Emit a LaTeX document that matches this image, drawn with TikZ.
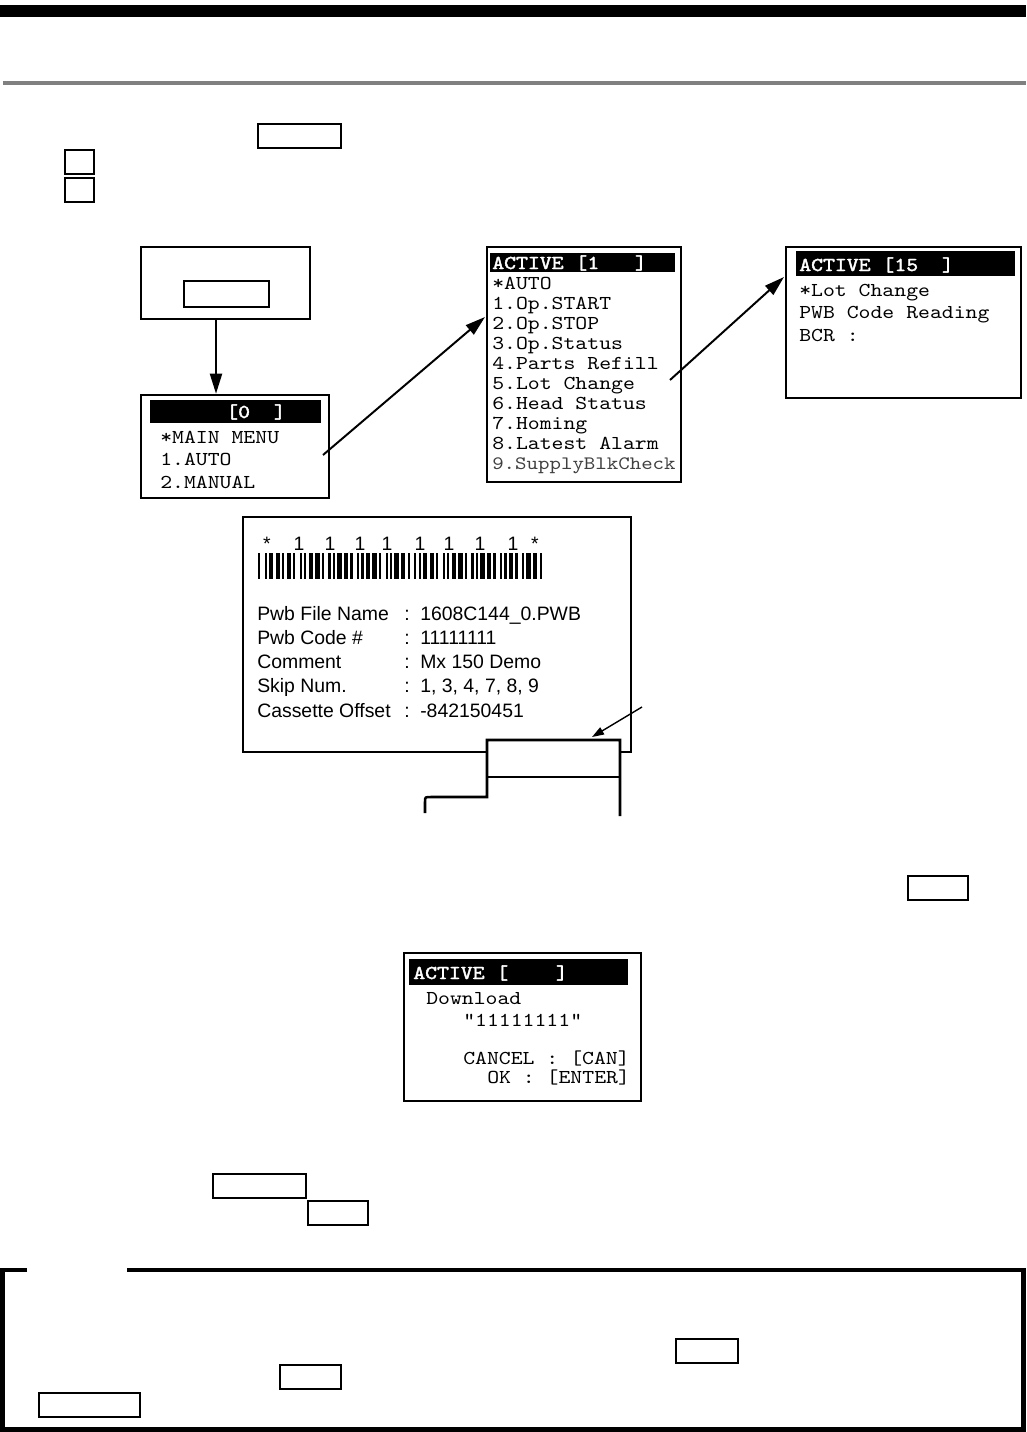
\documentclass[tikz,border=0pt]{standalone}
\usepackage{fontspec}
\usetikzlibrary{arrows.meta,fit}
\newfontfamily\lcdfont{lmmono10-regular}[Extension=.otf,FakeStretch=1.15]
\newfontfamily\lcdbold{lmmono10-regular}[Extension=.otf,FakeStretch=1.15,FakeBold=2]
\newfontfamily\slipfont{Liberation Sans}
\newcommand{\blanks}[1]{\hphantom{#1}}
\tikzset{
  panel/.style={draw,line width=1.8pt,inner sep=0pt},
  key/.style={draw,line width=1pt,inner sep=0pt},
  lcd/.style={anchor=base west,inner sep=0pt,font=\lcdfont\fontsize{14}{16}\selectfont},
  lcdhead/.style={lcd,text=white,font=\lcdbold\fontsize{14}{16}\selectfont},
  slip/.style={anchor=base west,inner sep=0pt,font=\slipfont\fontsize{13.8}{17}\selectfont},
  arr/.style={-{Triangle[length=5mm,width=3mm]},line width=1.4pt},
  ptr/.style={-{Triangle[length=3mm,width=2mm]},line width=1pt}
}

\begin{document}
\begin{tikzpicture}[x=0.025cm,y=-0.025cm]
  \useasboundingbox (0,0) rectangle (1026,1432);

  % Page header rules.
  \fill (0,5) rectangle (1026,17);
  \fill[gray] (3,81) rectangle (1026,85);

  % Key boxes in the opening lines.
  \node[key,fit={(258,124) (341,148)}] (k1) {};
  \node[key,fit={(65,150) (94,174)}] (k2) {};
  \node[key,fit={(65,178) (94,202)}] (k3) {};

  % Start panel with its key.
  \node[panel,line width=1.4pt,fit={(141,247) (310,319)}] (start) {};
  \node[key,fit={(184,281) (269,307)}] (startkey) {};

  % Main menu screen.
  \node[panel,fit={(141,395) (329,498)}] (menu) {};
  \fill (150,400) rectangle (321,423);
  \node[lcdhead] (menuhead) at (226,418) {[0\blanks{00}]};
  \node[lcd] (menu1) at (160,443) {*MAIN MENU};
  \node[lcd] (menu2) at (160,465) {1.AUTO};
  \node[lcd] (menu3) at (160,488) {2.MANUAL};

  \coordinate (drop) at (216,319);
  \draw[arr] (drop) -- (drop |- menu.north);

  % Auto screen.
  \node[panel,fit={(487,247) (681,482)}] (auto) {};
  \fill (490,253) rectangle (675,272);
  \node[lcdhead] (autohead) at (492,269) {ACTIVE\blanks{0}[1\blanks{000}]};
  \foreach \t [count=\i] in {*AUTO,1.Op.START,2.Op.STOP,3.Op.Status,4.Parts Refill,5.Lot Change,6.Head Status,7.Homing,8.Latest Alarm}
    \node[lcd] (auto\i) at (492,269+20*\i) {\t};
  \node[lcd,text=black!75,font=\lcdfont\fontsize{13.5}{16}\selectfont] (auto10) at (492,469) {9.SupplyBlkCheck};

  \coordinate (from1) at (323,455);
  \coordinate (to1) at (485,317);
  \draw[arr] (from1) -- (to1);

  % Lot change screen.
  \node[panel,fit={(786,247) (1021,398)}] (lot) {};
  \fill (796,251) rectangle (1015,276);
  \node[lcdhead] (lothead) at (799,271) {ACTIVE\blanks{0}[15\blanks{00}]};
  \node[lcd] (lot1) at (799,296) {*Lot Change};
  \node[lcd] (lot2) at (799,318) {PWB Code Reading};
  \node[lcd] (lot3) at (799,341) {BCR :};

  \coordinate (from2) at (670,380);
  \coordinate (to2) at (784,277);
  \draw[arr] (from2) -- (to2);

  % Barcode slip.
  \node[panel,line width=1.4pt,fit={(243,517) (631,752)}] (slip) {};
  \foreach \x/\c [count=\i] in {267/*,299/1,330/1,360/1,387/1,420/1,449/1,480/1,513/1,535/*}
    \node[slip,anchor=base] (bc\i) at (\x,550) {\c};
  \foreach \pat [count=\k from 0] in {{1,0,0,1,0,1,1,0,1,1,0,1},{1,1,0,1,0,0,1,0,1,0,1,1},{1,1,0,1,0,0,1,0,1,0,1,1},{1,1,0,1,0,0,1,0,1,0,1,1},{1,1,0,1,0,0,1,0,1,0,1,1},{1,1,0,1,0,0,1,0,1,0,1,1},{1,1,0,1,0,0,1,0,1,0,1,1},{1,1,0,1,0,0,1,0,1,0,1,1},{1,1,0,1,0,0,1,0,1,0,1,1},{1,0,0,1,0,1,1,0,1,1,0,1}}
    \foreach \m [count=\j from 0] in \pat
      {\ifnum\m=1 \fill (258+28.6*\k+2.2*\j,553) rectangle ++(2.25,26);\fi}
  \foreach \lab/\val [count=\i from 0] in {Pwb File Name/1608C144\_0.PWB,Pwb Code \#/11111111,Comment/Mx 150 Demo,Skip Num./{1, 3, 4, 7, 8, 9},Cassette Offset/-842150451}
  {
    \node[slip] (lab\i) at (257,620+24.3*\i) {\lab};
    \node[slip] (col\i) at (404,620+24.3*\i) {:};
    \node[slip] (val\i) at (420,620+24.3*\i) {\val};
  }

  % Printer outlet.
  \fill[white] (487,740) rectangle (620,777);
  \draw[line width=1.8pt] (487,777) -- (620,777);
  \draw[line width=1.8pt] (425,813) -- (425,802) .. controls (425,797) .. (431,797)
    -- (487,797) -- (487,740) -- (620,740) -- (620,816);
  \coordinate (tipfrom) at (642,707);
  \coordinate (tipto) at (592,737);
  \draw[ptr] (tipfrom) -- (tipto);

  % Key box at the end of the text line.
  \node[key,fit={(908,876) (968,900)}] (k4) {};

  % Download screen.
  \node[panel,line width=1.4pt,fit={(404,953) (641,1101)}] (load) {};
  \fill (409,959) rectangle (628,985);
  \node[lcdhead] (loadhead) at (413,979) {ACTIVE\blanks{0}[\blanks{0000}]};
  \node[lcd] (load1) at (426,1004) {Download};
  \node[lcd] (load2) at (463,1026) {"11111111"};
  \node[lcd] (load3) at (463,1064) {CANCEL : [CAN]};
  \node[lcd] (load4) at (487,1083) {OK : [ENTER]};

  % Key boxes in the closing lines.
  \node[key,fit={(213,1174) (306,1198)}] (k5) {};
  \node[key,fit={(308,1201) (368,1225)}] (k6) {};

  % Note frame, open at the top left.
  \draw[line width=3.2pt] (27,1270) -- (2.5,1270) -- (2.5,1429.5) -- (1023.5,1429.5)
    -- (1023.5,1270) -- (127,1270);
  \node[key,fit={(676,1339) (738,1363)}] (k7) {};
  \node[key,fit={(280,1365) (341,1389)}] (k8) {};
  \node[key,fit={(39,1393) (140,1417)}] (k9) {};
\end{tikzpicture}
\end{document}
